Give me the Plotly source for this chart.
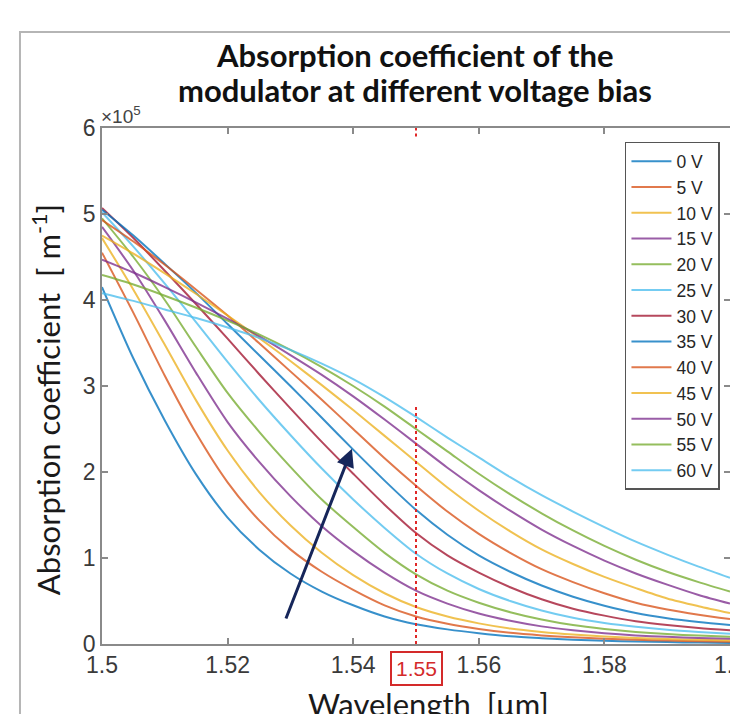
import plotly.graph_objects as go

# Wavelength grid (um)
wavelength = [1.500, 1.505, 1.510, 1.515, 1.520, 1.525, 1.530, 1.535, 1.540, 1.545, 1.550,
              1.555, 1.560, 1.565, 1.570, 1.575, 1.580, 1.585, 1.590, 1.595, 1.600]

# Absorption coefficient (x1e5 m^-1)
v0  = [4.15, 3.32, 2.60, 1.97, 1.47, 1.10, 0.82, 0.61, 0.45, 0.32, 0.23,
       0.17, 0.125, 0.090, 0.068, 0.050, 0.038, 0.029, 0.022, 0.016, 0.012]
v5  = [4.55, 3.85, 3.12, 2.45, 1.88, 1.44, 1.10, 0.84, 0.63, 0.45, 0.32,
       0.235, 0.175, 0.130, 0.100, 0.078, 0.062, 0.050, 0.040, 0.032, 0.025]
v10 = [4.72, 4.12, 3.48, 2.83, 2.25, 1.77, 1.38, 1.06, 0.80, 0.59, 0.43,
       0.32, 0.24, 0.18, 0.14, 0.11, 0.088, 0.071, 0.058, 0.048, 0.040]
v15 = [4.85, 4.34, 3.76, 3.15, 2.58, 2.12, 1.72, 1.37, 1.08, 0.83, 0.62,
       0.47, 0.355, 0.27, 0.205, 0.16, 0.125, 0.100, 0.083, 0.070, 0.060]
v20 = [4.95, 4.50, 4.00, 3.45, 2.92, 2.47, 2.06, 1.68, 1.36, 1.06, 0.81,
       0.62, 0.48, 0.37, 0.285, 0.22, 0.175, 0.140, 0.115, 0.098, 0.085]
v25 = [5.02, 4.62, 4.19, 3.74, 3.28, 2.84, 2.43, 2.04, 1.68, 1.35, 1.05,
       0.82, 0.64, 0.50, 0.39, 0.305, 0.245, 0.200, 0.165, 0.140, 0.120]
v30 = [5.07, 4.72, 4.34, 3.95, 3.55, 3.14, 2.74, 2.35, 1.98, 1.62, 1.29,
       1.03, 0.83, 0.66, 0.52, 0.41, 0.33, 0.265, 0.220, 0.185, 0.160]
v35 = [5.05, 4.75, 4.42, 4.08, 3.72, 3.36, 3.00, 2.63, 2.26, 1.90, 1.56,
       1.27, 1.03, 0.84, 0.68, 0.55, 0.445, 0.36, 0.30, 0.255, 0.220]
v40 = [4.93, 4.68, 4.41, 4.12, 3.82, 3.50, 3.17, 2.84, 2.50, 2.16, 1.84,
       1.54, 1.28, 1.06, 0.87, 0.72, 0.59, 0.48, 0.40, 0.34, 0.29]
v45 = [4.75, 4.54, 4.31, 4.07, 3.82, 3.56, 3.29, 3.01, 2.72, 2.42, 2.12,
       1.82, 1.55, 1.31, 1.10, 0.93, 0.78, 0.65, 0.53, 0.44, 0.36]
v50 = [4.47, 4.32, 4.15, 3.97, 3.78, 3.58, 3.36, 3.13, 2.88, 2.61, 2.33,
       2.05, 1.79, 1.55, 1.33, 1.14, 0.97, 0.82, 0.69, 0.57, 0.47]
v55 = [4.29, 4.18, 4.05, 3.91, 3.76, 3.60, 3.42, 3.22, 3.00, 2.76, 2.50,
       2.24, 1.98, 1.74, 1.52, 1.32, 1.14, 0.98, 0.84, 0.72, 0.61]
v60 = [4.08, 3.99, 3.89, 3.79, 3.68, 3.56, 3.42, 3.26, 3.08, 2.87, 2.64,
       2.40, 2.17, 1.94, 1.73, 1.54, 1.36, 1.19, 1.04, 0.90, 0.77]

series = [v0, v5, v10, v15, v20, v25, v30, v35, v40, v45, v50, v55, v60]
labels = ["0 V", "5 V", "10 V", "15 V", "20 V", "25 V", "30 V", "35 V", "40 V",
          "45 V", "50 V", "55 V", "60 V"]

matlab = ["#0072BD", "#D95319", "#EDB120", "#7E2F8E", "#77AC30", "#4DBEEE", "#A2142F"]

x_ticks = [1.5, 1.52, 1.54, 1.56, 1.58, 1.6]
x_ticktext = ["1.5", "1.52", "1.54", "1.56", "1.58", "1.6"]
y_ticks = [0, 1, 2, 3, 4, 5, 6]

marker_wl = 1.55
marker_top = 2.76
arrow_start = (1.5292, 0.28)
arrow_end = (1.5398, 2.27)

fig = go.Figure()
for i, (vals, lab) in enumerate(zip(series, labels)):
    fig.add_trace(go.Scatter(
        x=wavelength, y=vals, mode="lines", name=lab,
        line=dict(color=matlab[i % 7], width=2, shape="spline", smoothing=0.8),
        opacity=0.78,
    ))

# red dotted marker at 1.55 um
fig.add_trace(go.Scatter(
    x=[marker_wl, marker_wl], y=[0, marker_top], mode="lines", showlegend=False,
    line=dict(color="#e02828", width=2, dash="dot"),
))
fig.add_trace(go.Scatter(
    x=[marker_wl, marker_wl], y=[5.9, 6.0], mode="lines", showlegend=False,
    line=dict(color="#e02828", width=2, dash="dot"),
))

axis_col = "#8a8a8a"
tick_font = dict(family="Liberation Sans, Arial", size=23, color="#3a3a3a")

fig.update_layout(
    width=730, height=706,
    margin=dict(l=94, r=8, t=120, b=70, autoexpand=False),
    paper_bgcolor="white", plot_bgcolor="white",
    showlegend=True,
    legend=dict(
        x=0.984, y=0.973, xanchor="right", yanchor="top",
        bgcolor="white", bordercolor="#555555", borderwidth=1.5,
        font=dict(family="Liberation Sans, Arial", size=17.5, color="#262626"),
        tracegroupgap=0, itemwidth=40,
    ),
    xaxis=dict(
        range=[1.5, 1.6], tickvals=x_ticks, ticktext=x_ticktext,
        ticks="inside", ticklen=6, tickcolor=axis_col, tickwidth=1.5,
        showline=True, linecolor=axis_col, linewidth=1.5, mirror="ticks",
        showgrid=False, zeroline=False, tickfont=tick_font,
        ticklabeloverflow="allow", automargin=False,
    ),
    yaxis=dict(
        range=[0, 6], tickvals=y_ticks,
        ticks="inside", ticklen=6, tickcolor=axis_col, tickwidth=1.5,
        showline=True, linecolor=axis_col, linewidth=1.5, mirror="ticks",
        showgrid=False, zeroline=False, tickfont=tick_font, automargin=False,
    ),
)

# outer frame of the slide figure
fig.add_shape(type="rect", xref="paper", yref="paper",
              x0=-0.1306, x1=1.2, y0=-0.3, y1=1.186,
              line=dict(color="#b5b5b5", width=2), layer="below")

title_font = dict(family="Lato, Open Sans", size=31, color="#111111")
fig.add_annotation(text="<b>Absorption coefficient of the</b>", xref="paper", yref="paper",
                   x=0.498, y=1.1415, xanchor="center", yanchor="middle",
                   showarrow=False, font=title_font)
fig.add_annotation(text="<b>modulator at different voltage bias</b>", xref="paper", yref="paper",
                   x=0.498, y=1.0736, xanchor="center", yanchor="middle",
                   showarrow=False, font=title_font)

fig.add_annotation(text="×10<sup>5</sup>", xref="paper", yref="paper",
                   x=-0.004, y=0.998, xanchor="left", yanchor="bottom",
                   showarrow=False,
                   font=dict(family="Liberation Sans, Arial", size=19, color="#444444"))

label_font = dict(family="Lato, Open Sans", size=31, color="#1a1a1a")
fig.add_annotation(text="Absorption coefficient  [ m<sup>-1</sup>]", xref="paper", yref="paper",
                   x=-0.088, y=0.474, xanchor="center", yanchor="middle", textangle=-90,
                   showarrow=False, font=label_font)
fig.add_annotation(text="Wavelength  [μm]", xref="paper", yref="paper",
                   x=0.52, y=-0.075, xanchor="center", yanchor="top",
                   showarrow=False, font=label_font)

# red boxed 1.55 label
fig.add_annotation(text="1.55", xref="x", yref="paper", x=marker_wl, y=-0.0136,
                   xanchor="center", yanchor="top", showarrow=False,
                   font=dict(family="Liberation Sans, Arial", size=21, color="#d42a2a"),
                   bordercolor="#d42a2a", borderwidth=2, borderpad=4, bgcolor="white")

# navy arrow
fig.add_annotation(x=arrow_end[0], y=arrow_end[1], ax=arrow_start[0], ay=arrow_start[1],
                   xref="x", yref="y", axref="x", ayref="y", text="",
                   showarrow=True, arrowhead=2, arrowsize=1.2, arrowwidth=3,
                   arrowcolor="#16265a")

fig.write_html("out.html")
